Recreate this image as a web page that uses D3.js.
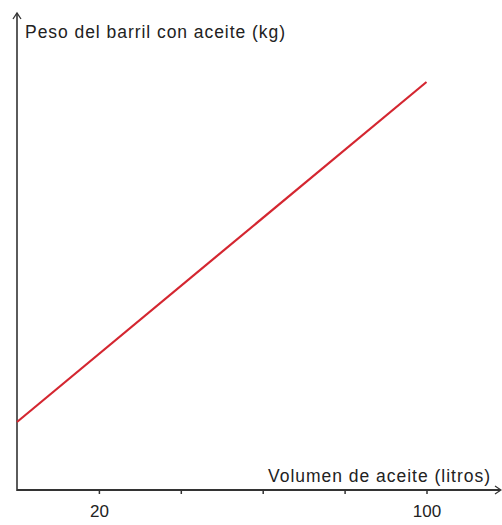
<!DOCTYPE html>
<html>
<head>
<meta charset="utf-8">
<script src="https://cdn.jsdelivr.net/npm/d3@7"></script>
<style>
  body { margin: 0; background: #fff; }
  text { font-family: "Liberation Sans", Arial, sans-serif; fill: #222; }
</style>
</head>
<body>
<script>
// volume of oil (litres) and weight of the barrel with oil (kg)
var volumes = [0, 100];
var weights = [18, 108];

// tick labels shown under the x axis
var tickValues = [20, 40, 60, 80, 100];
var tickLabels = ["20", "", "", "", "100"];

var xTitle = "Volumen de aceite (litros)";
var yTitle = "Peso del barril con aceite (kg)";

var width = 502;
var height = 525;

var svg = d3.select("body").append("svg")
    .attr("width", width)
    .attr("height", height);

// origin of the axes in pixels
var x0 = 17, y0 = 490;

var xScale = d3.scaleLinear()
    .domain([0, 100])
    .range([x0, 426.5]);

var yScale = d3.scaleLinear()
    .domain([0, 108])
    .range([y0, 82]);

// x axis line with arrow
svg.append("line")
  .attr("x1", x0).attr("y1", y0)
  .attr("x2", 500).attr("y2", y0)
  .attr("stroke", "#333").attr("stroke-width", 2);

svg.append("path")
  .attr("d", `M495,${y0 - 4} L501,${y0} L495,${y0 + 4}`)
  .attr("fill", "none").attr("stroke", "#333").attr("stroke-width", 1.2);

// y axis line with arrow
svg.append("line")
  .attr("x1", x0).attr("y1", y0 + 1)
  .attr("x2", x0).attr("y2", 13)
  .attr("stroke", "#333").attr("stroke-width", 1.6);

svg.append("path")
  .attr("d", `M${x0 - 4},19 L${x0},13 L${x0 + 4},19`)
  .attr("fill", "none").attr("stroke", "#333").attr("stroke-width", 1.3);

// ticks below the x axis
var xAxis = d3.axisBottom(xScale)
  .tickValues(tickValues)
  .tickSize(4)
  .tickPadding(11)
  .tickFormat((d, i) => tickLabels[i]);

var gx = svg.append("g")
  .attr("transform", `translate(0,${y0})`)
  .call(xAxis);

gx.select(".domain").remove();
gx.selectAll(".tick line").attr("stroke", "#333").attr("stroke-width", 1.5);
gx.selectAll(".tick text")
  .style("font-family", "'Liberation Sans', Arial, sans-serif")
  .style("font-size", "17px")
  .attr("fill", "#222");

// axis titles (stretched to the width they have in the picture)
svg.append("text")
  .attr("x", 25).attr("y", 38)
  .attr("textLength", 260)
  .attr("lengthAdjust", "spacing")
  .style("font-size", "17.5px")
  .text(yTitle);

svg.append("text")
  .attr("x", 268).attr("y", 482)
  .attr("textLength", 222)
  .attr("lengthAdjust", "spacing")
  .style("font-size", "17.5px")
  .text(xTitle);

// the red line
var data = volumes.map((v, i) => ({ v: v, w: weights[i] }));

var line = d3.line()
  .x(d => xScale(d.v))
  .y(d => yScale(d.w));

svg.append("path")
  .datum(data)
  .attr("d", line)
  .attr("fill", "none")
  .attr("stroke", "#d42630")
  .attr("stroke-width", 2.2);
</script>
</body>
</html>
